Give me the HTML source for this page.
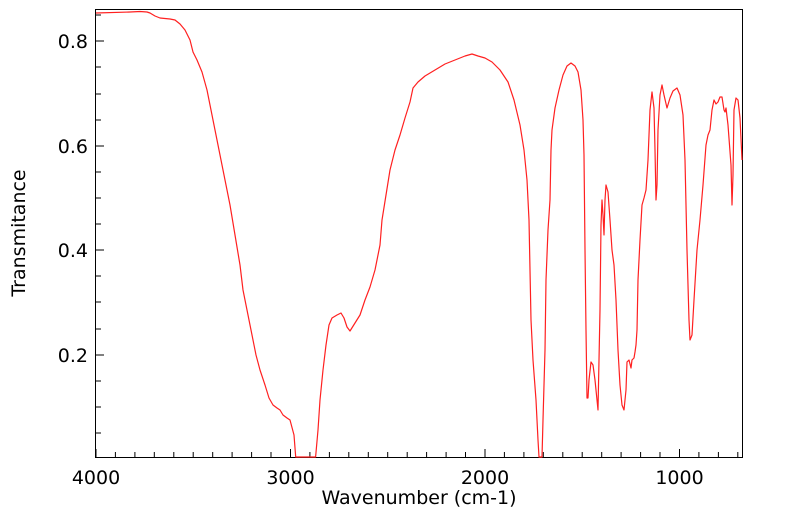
<!DOCTYPE html><html><head><style>body{margin:0;background:#fff}</style></head><body>
<svg width="799" height="516" xmlns="http://www.w3.org/2000/svg" font-family="DejaVu Sans, sans-serif">
<rect x="95.5" y="9.5" width="647" height="448" fill="none" stroke="#000" stroke-width="1"/>
<g stroke="#000" stroke-width="1">
<path d="M96 457v-8M115.4 457v-5M134.9 457v-5M154.3 457v-5M173.8 457v-5M193.2 457v-5M212.7 457v-5M232.1 457v-5M251.6 457v-5M271 457v-5M290.5 457v-8M309.9 457v-5M329.4 457v-5M348.8 457v-5M368.3 457v-5M387.7 457v-5M407.2 457v-5M426.6 457v-5M446.1 457v-5M465.5 457v-5M485 457v-8M504.4 457v-5M523.9 457v-5M543.3 457v-5M562.8 457v-5M582.2 457v-5M601.7 457v-5M621.1 457v-5M640.6 457v-5M660 457v-5M679.5 457v-8M698.9 457v-5M718.4 457v-5M737.8 457v-5"/>
<path d="M96 41h8M96 146h8M96 250h8M96 355h8M96 433h5M96 407h5M96 381h5M96 329h5M96 302h5M96 276h5M96 224h5M96 198h5M96 172h5M96 120h5M96 94h5M96 67h5M96 15h5"/>
</g>
<g font-size="19" fill="#000">
<text x="88" y="48" text-anchor="end">0.8</text>
<text x="88" y="153" text-anchor="end">0.6</text>
<text x="88" y="257" text-anchor="end">0.4</text>
<text x="88" y="362" text-anchor="end">0.2</text>
<text x="96" y="484" text-anchor="middle">4000</text>
<text x="290.5" y="484" text-anchor="middle">3000</text>
<text x="485" y="484" text-anchor="middle">2000</text>
<text x="679.5" y="484" text-anchor="middle">1000</text>
<text x="419" y="504" text-anchor="middle">Wavenumber (cm-1)</text>
<text transform="translate(25,233) rotate(-90)" text-anchor="middle">Transmitance</text>
</g>
<polyline fill="none" stroke="#ff2020" stroke-width="1.2" stroke-linejoin="round" points="96,13 130,12 140,11.5 147,12 150,13 155,16 160,18 170,19 175,20 180,24 185,30 190,40 193,52 197,60 202,72 207,90 211,110 215,130 218,145 222,165 225,180 230,205 235,235 240,265 243,290 247,310 252,335 256,355 260,370 265,385 269,398 273,405 277,408 280,410 283,415 287,418 290,420 294,435 295.7,457 315.6,457 318,430 320,400 323,370 326,345 329,325 332,318 337,315 341,313 344,318 347,327 350,331 355,323 360,315 365,300 370,287 375,270 380,245 382,220 386,195 390,170 395,150 400,135 405,118 410,102 413,88 418,82 425,76 435,70 445,64 455,60 465,56 472,54 478,56 485,58 492,62 500,70 508,82 514,100 520,125 524,150 527,180 529,220 530,270 531,320 533,360 536,400 538,440 539,457 542,457 543,420 545,350 546,280 548,230 550,200 551,150 552,130 555,108 559,90 563,75 567,66 571,63 575,66 578,72 581,90 583,120 584,155 585,250 586,330 587,398 588,398 589,380 591,362 593,365 595,380 597,400 598,410 600,310 601,225 602,200 603,215 604,235 605,200 606,185 608,192 610,220 612,250 614,265 616,300 618,350 620,385 622,405 624,410 626,390 627,362 629,360 631,368 632,360 634,358 635,352 636,345 637,330 638,280 640,240 642,205 644,198 646,190 648,160 650,110 652,92 654,108 655,150 656,200 657,185 658,130 660,95 662,85 664,95 667,108 670,98 673,91 677,88 680,95 683,115 685,160 687,250 689,320 690,340 692,335 694,300 697,250 700,220 703,185 706,145 708,135 710,130 712,110 714,100 716,104 718,102 720,97 722,97 724,110 725,112 726,108 728,125 731,165 732,205 733,175 734,110 736,98 738,100 740,118 742,160"/>
</svg>
</body></html>
